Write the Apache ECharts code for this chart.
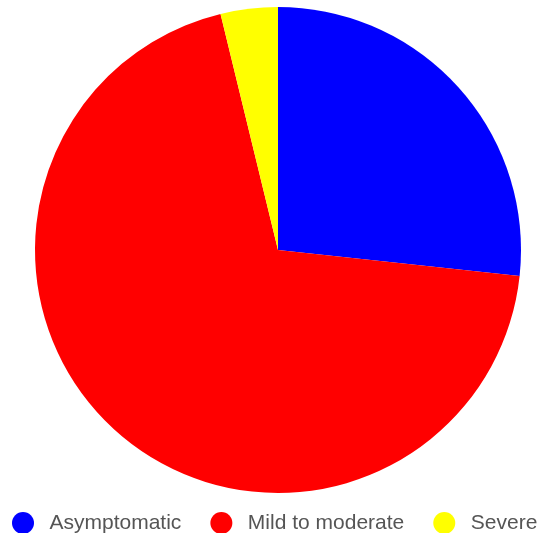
<!DOCTYPE html>
<html>
<head>
<meta charset="utf-8">
<script src="https://cdn.jsdelivr.net/npm/echarts@6/dist/echarts.min.js"></script>
<style>
  html, body { margin: 0; padding: 0; background: #ffffff; }
  #chart { width: 540px; height: 533px; }
</style>
</head>
<body>
<div id="chart"></div>
<script>
// Share of cases by severity (percent)
const categories = ['Asymptomatic', 'Mild to moderate', 'Severe'];
const shares = [26.7, 69.5, 3.8];
const colors = ['#0000ff', '#ff0000', '#ffff00'];

const chart = echarts.init(document.getElementById('chart'), null, { renderer: 'canvas' });

chart.setOption({
  animation: false,
  color: colors,
  legend: {
    data: categories,
    left: 7,
    top: 507,
    width: 620,
    icon: 'circle',
    itemWidth: 43,
    itemHeight: 22,
    itemGap: 29,
    textStyle: {
      fontFamily: 'Liberation Sans, Arial, sans-serif',
      fontSize: 21,
      color: '#555555'
    }
  },
  series: [{
    type: 'pie',
    center: [278, 250],
    radius: 243,
    startAngle: 90,
    clockwise: true,
    label: { show: false },
    labelLine: { show: false },
    emphasis: { disabled: true },
    itemStyle: { borderWidth: 0 },
    data: categories.map((name, i) => ({ name: name, value: shares[i] }))
  }]
});
</script>
</body>
</html>
